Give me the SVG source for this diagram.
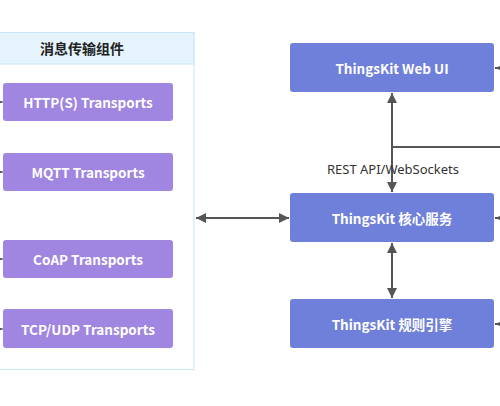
<svg xmlns="http://www.w3.org/2000/svg" width="500" height="406" viewBox="0 0 500 406">
<style>
.t{font-family:"Noto Sans CJK SC","Liberation Sans",sans-serif;font-weight:bold;font-size:13.5px;fill:#fff;text-anchor:middle;dominant-baseline:central}
.p{fill:#a086e0}
.b{fill:#6f80da}
.c{stroke:#555;stroke-width:2;fill:none}
.lbl{font-family:"Noto Sans","Liberation Sans",sans-serif;font-size:13px;fill:#333;text-anchor:middle}
</style>
<defs>
<marker id="ah" viewBox="0 0 10 10" refX="10" refY="5" markerWidth="5" markerHeight="5" orient="auto-start-reverse" markerUnits="strokeWidth">
<path d="M0,0 L10,5 L0,10 z" fill="#555"/>
</marker>
<marker id="sm" viewBox="0 0 10 10" refX="10" refY="5" markerWidth="6" markerHeight="6" orient="auto" markerUnits="userSpaceOnUse">
<path d="M0,1 L10,5 L0,9 z" fill="#555"/>
</marker>
</defs>
<g id="container">
<rect x="-10" y="32.5" width="204" height="337" fill="#fff" stroke="#c8e6f6" stroke-width="1"/>
<rect x="-10" y="32.5" width="204" height="31.5" fill="#e4f3fc" stroke="#c8e6f6" stroke-width="1"/>
<text x="82" y="48" class="t" style="fill:#222;font-size:14px">消息传输组件</text>
</g>
<g id="http"><rect class="p" x="3" y="83" width="170" height="38" rx="3"/><text class="t" x="88" y="102">HTTP(S) Transports</text></g>
<g id="mqtt"><rect class="p" x="3" y="153" width="170" height="38" rx="3"/><text class="t" x="88" y="172">MQTT Transports</text></g>
<g id="coap"><rect class="p" x="3" y="240" width="170" height="38" rx="3"/><text class="t" x="88" y="259">CoAP Transports</text></g>
<g id="tcpudp"><rect class="p" x="3" y="309" width="170" height="39" rx="3"/><text class="t" x="88" y="328.5">TCP/UDP Transports</text></g>
<g id="webui"><rect class="b" x="290" y="43" width="204" height="49" rx="3"/><text class="t" x="392" y="68">ThingsKit Web UI</text></g>
<g id="core"><rect class="b" x="290" y="193" width="204" height="49" rx="3"/><text class="t" x="392" y="218">ThingsKit 核心服务</text></g>
<g id="rules"><rect class="b" x="290" y="299" width="204" height="49" rx="3"/><text class="t" x="392" y="324">ThingsKit 规则引擎</text></g>
<g id="connectors">
<path class="c" d="M392,93 V192" marker-start="url(#ah)" marker-end="url(#ah)"/>
<path class="c" d="M392,147 H500"/>
<path class="c" d="M392,243 V298" marker-start="url(#ah)" marker-end="url(#ah)"/>
<path class="c" d="M196,218 H289" marker-start="url(#ah)" marker-end="url(#ah)"/>
<path class="c" d="M520,68 H495" marker-end="url(#sm)"/>
<path class="c" d="M520,218 H495" marker-end="url(#sm)"/>
<path class="c" d="M520,324 H495" marker-end="url(#sm)"/>
<path stroke="#555" stroke-width="1" d="M-20,102 H3" marker-end="url(#sm)"/>
<path stroke="#555" stroke-width="1" d="M-20,172 H3" marker-end="url(#sm)"/>
<path stroke="#555" stroke-width="1" d="M-20,259 H3" marker-end="url(#sm)"/>
<path stroke="#555" stroke-width="1" d="M-20,329 H3" marker-end="url(#sm)"/>
<text class="lbl" x="393" y="174">REST API/WebSockets</text>
</g>
</svg>
